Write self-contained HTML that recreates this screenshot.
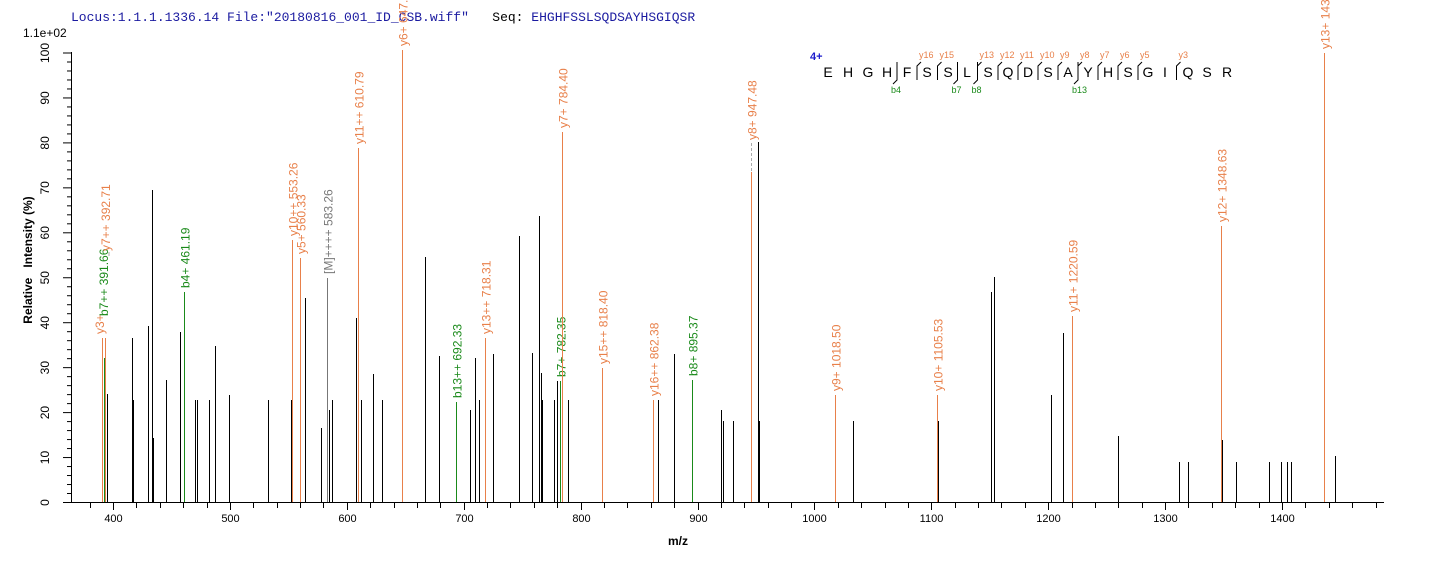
<!DOCTYPE html>
<html><head><meta charset="utf-8"><style>
body{margin:0;background:#fff;}
svg{display:block;font-family:"Liberation Sans",Arial,sans-serif;}
</style></head><body>
<svg id="s" width="1436" height="562" xmlns="http://www.w3.org/2000/svg">
<text x="71" y="21" font-family="Liberation Mono,monospace" font-size="13" fill="#1a1aa0" xml:space="preserve">Locus:1.1.1.1336.14 File:"20180816_001_ID_CSB.wiff"   <tspan fill="#000">Seq:</tspan> EHGHFSSLSQDSAYHSGIQSR</text>
<text x="23" y="37" font-size="12">1.1e+02</text>
<text transform="translate(32,260) rotate(-90)" text-anchor="middle" font-size="12" font-weight="bold" xml:space="preserve">Relative   Intensity (%)</text>
<text x="678" y="545" text-anchor="middle" font-size="12" font-weight="bold">m/z</text>
<g id="ax" stroke="#000" stroke-width="1"></g>
<g id="pk"></g>
<g id="seq"></g>
</svg>
<script>
var NS="http://www.w3.org/2000/svg",s=document.getElementById('s');
function el(p,t,a,txt){var e=document.createElementNS(NS,t);for(var k in a)e.setAttribute(k,a[k]);if(txt!=null)e.textContent=txt;p.appendChild(e);return e;}
var SC=1.169;
function X(m){return Math.round(113+(m-400)*SC)+0.5;}
var ax=document.getElementById('ax');
el(ax,'line',{x1:71.5,y1:502.5,x2:1384,y2:502.5});
el(ax,'line',{x1:71.5,y1:52,x2:71.5,y2:502.5});
for(var v=0;v<=100;v+=2){var y=502.5-v*4.495;el(ax,'line',{x1:v%10?67:63,y1:y,x2:71.5,y2:y});
 if(v%10==0){el(s,'text',{transform:'translate(49,'+y+') rotate(-90)','text-anchor':'middle','font-size':12},v);}}
for(var m=360;m<=1500;m+=20){var x=113+(m-400)*SC;if(x<71||x>1384)continue;x=Math.round(x)+0.5;el(ax,'line',{x1:x,y1:502.5,x2:x,y2:m%100?508:510});
 if(m%100==0)el(s,'text',{x:x,y:522,'text-anchor':'middle','font-size':11},m);}
var O='#e8804a',G='#1a8a1a',K='#000',Y='#777';
var pk=document.getElementById('pk');
el(pk,'line',{x1:X(946),y1:143,x2:X(946),y2:172,stroke:'#aaa','stroke-dasharray':'3,2'});
el(pk,'line',{x1:109,y1:252,x2:109,y2:256,stroke:'#aaa'});
var B=[[393,338],[395,394],[416,338],[417,400],[430,326],[433,190],[434,438],[445,380],[457,332],[470,400],[472,400],[482,400],[487,346],[499,395],[533,400],[552,400],[564,298],[578,428],[585,410],[587,400],[608,318],[612,400],[622,374],[630,400],[667,257],[679,356],[705,410],[710,358],[713,400],[725,354],[747,236],[758,353],[764,216],[766,373],[767,400],[777,400],[780,381],[789,400],[866,400],[880,354],[920,410],[922,421],[930,421],[946,395],[952,142],[953,421],[1033,421],[1106,421],[1151,292],[1154,277],[1202,395],[1213,333],[1260,436],[1312,462],[1320,462],[1349,440],[1361,462],[1389,462],[1399,462],[1404,462],[1408,462],[1445,456]];
B.forEach(function(p){var x=X(p[0]);el(pk,'line',{x1:x,y1:p[1],x2:x,y2:502,stroke:K});});
var L=[[391,338,O,'y3+',334,104],[392,358,G,'b7++ 391.66',316,108],[393,338,O,'y7++ 392.71',251,110],[461,292,G,'b4+ 461.19'],[553,240,O,'y10++ 553.26'],[560,258,O,'y5+ 560.33'],[583,278,Y,'[M]++++ 583.26'],[610,148,O,'y11++ 610.79'],[647,50,O,'y6+ 647.37'],[693,402,G,'b13++ 692.33'],[718,338,O,'y13++ 718.31'],[782,381,G,'b7+ 782.35'],[784,132,O,'y7+ 784.40'],[818,368,O,'y15++ 818.40'],[862,400,O,'y16++ 862.38'],[895,380,G,'b8+ 895.37'],[946,172,O,'y8+ 947.48',140],[1018,395,O,'y9+ 1018.50'],[1105,395,O,'y10+ 1105.53'],[1220,316,O,'y11+ 1220.59'],[1348,226,O,'y12+ 1348.63'],[1435.7,53,O,'y13+ 1435.67']];
L.forEach(function(p){var x=X(p[0]);el(pk,'line',{x1:x,y1:p[1],x2:x,y2:502,stroke:p[2]});
 var ty=p[4]!=null?p[4]:p[1]-4, tx=p[5]!=null?p[5]:x+5;
 el(pk,'text',{transform:'translate('+tx+','+ty+') rotate(-90)','font-size':12,fill:p[2]},p[3]);});
var sq=document.getElementById('seq');
el(sq,'text',{x:810,y:60,'font-size':11,'font-weight':'bold',fill:'#1a1acc'},'4+');
var letters='EHGHFSSLSQDSAYHSGIQSR'.split('');
var xs=[828,848,868,887,907,927,948,967,988,1008,1028,1048,1068,1088,1108,1128,1148,1165,1188,1207,1227];
letters.forEach(function(c,i){el(sq,'text',{x:xs[i],y:77,'text-anchor':'middle','font-size':14},c);});
var yl={5:'16',6:'15',8:'13',9:'12',10:'11',11:'10',12:'9',13:'8',14:'7',15:'6',16:'5',18:'3'};
for(var i in yl){var x=(xs[i-1]+xs[i])/2;el(sq,'path',{d:'M'+x+' 80 L'+x+' 66 L'+(x+4)+' 62',stroke:'#000',fill:'none'});
 el(sq,'text',{x:x+2,y:58,'font-size':9,fill:O},'y'+yl[i]);}
var bl={4:'4',7:'7',8:'8',13:'13'};
for(var i in bl){var x=(xs[i-1]+xs[i])/2;el(sq,'path',{d:'M'+x+' 62 L'+x+' 80 L'+(x-4)+' 84',stroke:'#000',fill:'none'});
 el(sq,'text',{x:x-6,y:93,'font-size':9,fill:G},'b'+bl[i]);}
</script>
</body></html>
